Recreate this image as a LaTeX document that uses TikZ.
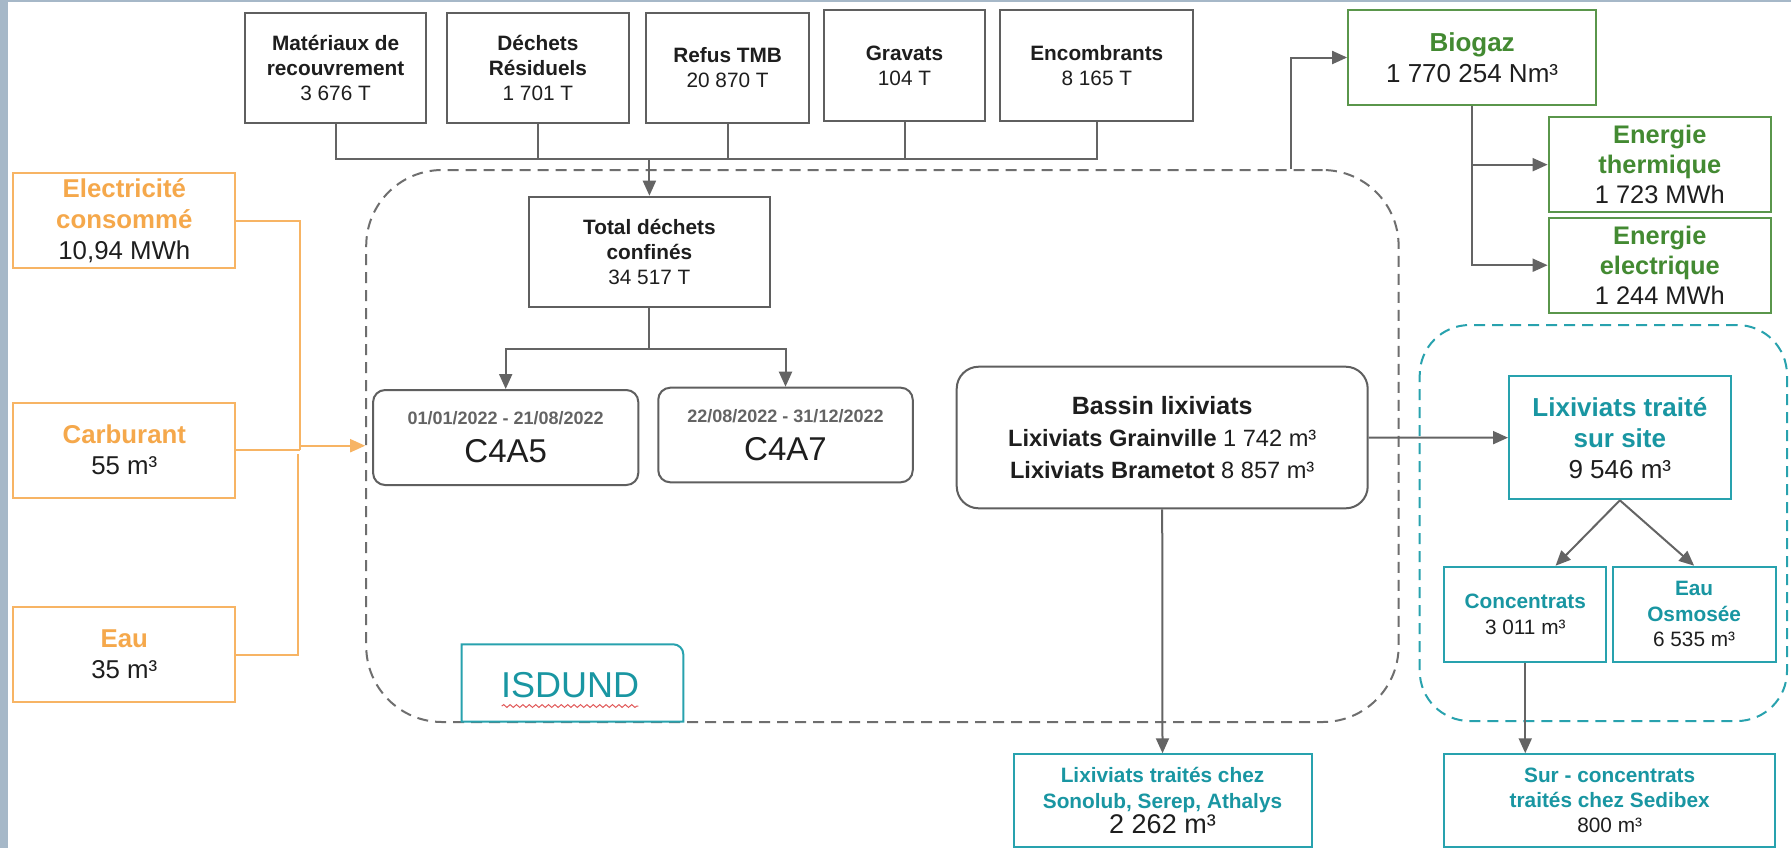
\documentclass[tikz,border=0pt]{standalone}
\usepackage{fontspec}
\setmainfont{Liberation Sans}
\usetikzlibrary{arrows.meta,decorations.pathmorphing}
\definecolor{strip}{RGB}{166,184,200}
\definecolor{boxgray}{RGB}{95,95,95}
\definecolor{linegray}{RGB}{100,100,100}
\definecolor{dashgray}{RGB}{110,110,110}
\definecolor{orB}{RGB}{247,180,100}
\definecolor{orT}{RGB}{245,168,75}
\definecolor{grB}{RGB}{90,150,75}
\definecolor{grT}{RGB}{67,138,50}
\definecolor{tlB}{RGB}{40,162,174}
\definecolor{tlT}{RGB}{25,150,162}
\definecolor{dateg}{RGB}{100,100,100}
\definecolor{txt}{RGB}{30,30,30}
\definecolor{wavy}{RGB}{225,90,90}
\newcommand\fsz[2]{\fontsize{#1}{#2}\selectfont}
\begin{document}
\begin{tikzpicture}[x=0.5pt,y=-0.5pt,
  sz/.style 2 args={minimum width=#1*0.5pt,minimum height=#2*0.5pt},
  base/.style={draw,line width=1pt,inner sep=0pt,align=center,text=txt},
  gbox/.style={base,draw=boxgray},
  rbox/.style={base,draw=boxgray,rounded corners=6pt},
  obox/.style={base,draw=orB},
  grbox/.style={base,draw=grB},
  tbox/.style={base,draw=tlB},
  conn/.style={draw=linegray,line width=1pt},
  arr/.style={conn,-{Triangle[length=7.5pt,width=6.5pt]}},
  oconn/.style={draw=orB,line width=1pt},
  oarr/.style={oconn,-{Triangle[length=7.5pt,width=6.5pt]}},
  zone/.style={draw=dashgray,line width=1pt,dash pattern=on 5.5pt off 3.5pt,inner sep=0pt},
]
\useasboundingbox (0,0) rectangle (1791,848);
\fill[strip] (0,0) rectangle (1791,848);
\fill[white] (7.7,1.7) rectangle (1791,848);

% zones
\node[zone,rounded corners=38pt,sz={1032.4}{552}] (isdzone) at (882.4,446) {};
\node[zone,draw=tlB,rounded corners=25pt,sz={367.3}{396}] (tealzone) at (1603.35,523) {};
\draw[draw=tlB,line width=1pt] (461.7,721.7) -- (461.7,644.3) -- (673.3,644.3) .. controls (678.8,644.3) and (683.3,648.8) .. (683.3,654.3) -- (683.3,721.7) -- cycle;
\node[text=tlT,font=\fsz{18}{20}] (isdtxt) at (570,685) {ISDUND};
\draw[wavy,line width=0.5pt,decorate,decoration={snake,amplitude=0.7pt,segment length=3.2pt}] (501.7,706) -- (638.3,706);

% top boxes
\node[gbox,sz={181.4}{110.6},font=\fsz{10.4}{12.5}] (mat) at (335.6,68) {\textbf{Matériaux de}\\\textbf{recouvrement}\\3 676 T};
\node[gbox,sz={181.7}{110.6},font=\fsz{10.4}{12.5}] (dech) at (537.9,68) {\textbf{Déchets}\\\textbf{Résiduels}\\1 701 T};
\node[gbox,sz={162.7}{110.6},font=\fsz{10.4}{12.5}] (refus) at (727.6,68) {\textbf{Refus TMB}\\20 870 T};
\node[gbox,sz={161.9}{110.4},font=\fsz{10.4}{12.5}] (grav) at (904.5,65.5) {\textbf{Gravats}\\104 T};
\node[gbox,sz={192.9}{110.4},font=\fsz{10.4}{12.5}] (enc) at (1096.8,65.5) {\textbf{Encombrants}\\8 165 T};

\node[gbox,sz={240.2}{110.6},font=\fsz{10.4}{12.5}] (total) at (649.4,252) {\textbf{Total déchets}\\\textbf{confinés}\\34 517 T};

\node[rbox,sz={265.2}{95},font=\fsz{16.5}{19}] (c4a5) at (505.7,437.5) {{\fsz{9}{11}\bfseries\color{dateg}01/01/2022 - 21/08/2022}\\C4A5};
\node[rbox,sz={254.5}{94.6},font=\fsz{16.5}{19}] (c4a7) at (785.5,435) {{\fsz{9}{11}\bfseries\color{dateg}22/08/2022 - 31/12/2022}\\C4A7};

\node[base,draw=boxgray,rounded corners=11pt,sz={411}{141.6},font=\fsz{11.8}{15.8}] (bassin) at (1162.2,437.5) {{\fsz{12.5}{15.8}\bfseries Bassin lixiviats}\\\textbf{Lixiviats Grainville} 1 742 m³\\\textbf{Lixiviats Brametot} 8 857 m³};

% left boxes
\node[obox,sz={221.9}{95},font=\fsz{12.9}{15.5}] (elec) at (124.35,220.8) {{\color{orT}\textbf{Electricité}}\\{\color{orT}\textbf{consommé}}\\10,94 MWh};
\node[obox,sz={221.9}{95},font=\fsz{12.9}{15.5}] (carb) at (124.35,450.2) {{\color{orT}\textbf{Carburant}}\\55 m³};
\node[obox,sz={221.9}{94.4},font=\fsz{12.9}{15.5}] (eau) at (124.35,654.5) {{\color{orT}\textbf{Eau}}\\35 m³};

% green
\node[grbox,sz={248}{95},font=\fsz{13}{15.8}] (biogaz) at (1472.1,57.5) {{\color{grT}\textbf{Biogaz}}\\1 770 254 Nm³};
\node[grbox,sz={222.4}{94.7},font=\fsz{12.7}{15}] (etherm) at (1659.8,164.65) {{\color{grT}\textbf{Energie}}\\{\color{grT}\textbf{thermique}}\\1 723 MWh};
\node[grbox,sz={222.4}{95},font=\fsz{12.7}{15}] (eelec) at (1659.8,265.2) {{\color{grT}\textbf{Energie}}\\{\color{grT}\textbf{electrique}}\\1 244 MWh};

% teal
\node[tbox,sz={221.7}{123.3},font=\fsz{13}{15.5}] (lixsite) at (1619.85,437.65) {{\color{tlT}\textbf{Lixiviats traité}}\\{\color{tlT}\textbf{sur site}}\\9 546 m³};
\node[tbox,sz={162.1}{95},font=\fsz{10.4}{13}] (conc) at (1525.25,614.2) {{\color{tlT}\textbf{Concentrats}}\\3 011 m³};
\node[tbox,sz={162.8}{95},font=\fsz{10.4}{12.7}] (osmo) at (1694.1,614.2) {{\color{tlT}\textbf{Eau}}\\{\color{tlT}\textbf{Osmosée}}\\6 535 m³};
\node[tbox,sz={298}{92.5},font=\fsz{10.4}{12.6}] (lixext) at (1162.5,800.5) {{\color{tlT}\textbf{Lixiviats traités chez}}\\{\color{tlT}\textbf{Sonolub, Serep, Athalys}}\\{\fsz{13.5}{14}2 262 m³}};
\node[tbox,sz={330.7}{92.5},font=\fsz{10.4}{12.6}] (surconc) at (1609.65,800.5) {{\color{tlT}\textbf{Sur - concentrats}}\\{\color{tlT}\textbf{traités chez Sedibex}}\\800 m³};

% connectors top
\coordinate (jy) at (0,158.7);
\coordinate (sy) at (0,349.3);
\draw[conn] (mat.south) |- (total.north |- jy);
\draw[conn] (dech.south) |- (total.north |- jy);
\draw[conn] (refus.south) |- (total.north |- jy);
\draw[conn] (grav.south) |- (total.north |- jy);
\draw[conn] (enc.south) |- (total.north |- jy);
\draw[arr] (total.north |- jy) -- (total.north);
\draw[conn] (total.south) -- (total.south |- sy);
\draw[arr] (total.south |- sy) -| (c4a5.north);
\draw[arr] (total.south |- sy) -| (c4a7.north);

% orange
\coordinate (oj) at (300.4,450.2);
\coordinate (ej) at (297.7,454);
\coordinate (oa) at (300.4,445.7);
\draw[oconn] (elec.east) -| (oj);
\draw[oconn] (carb.east) -- (oj);
\draw[oconn] (eau.east) -| (ej);
\draw[oarr] (oa) -- (oa -| isdzone.west);

% biogaz
\coordinate (bx) at (1291.2,57.5);
\draw[arr] (bx |- isdzone.north) |- (biogaz.west);
\draw[arr] (biogaz.south) |- (etherm.west);
\draw[arr] (biogaz.south) |- (eelec.west);

% lixiviats
\draw[arr] (bassin.east) -- (lixsite.west);
\draw[arr] (bassin.south) -- (lixext.north);
\draw[arr] (lixsite.south) -- (conc.58.6);
\draw[arr] (lixsite.south) -- (osmo.north);
\draw[arr] (conc.south) -- (conc.south |- surconc.north);
\end{tikzpicture}
\end{document}
